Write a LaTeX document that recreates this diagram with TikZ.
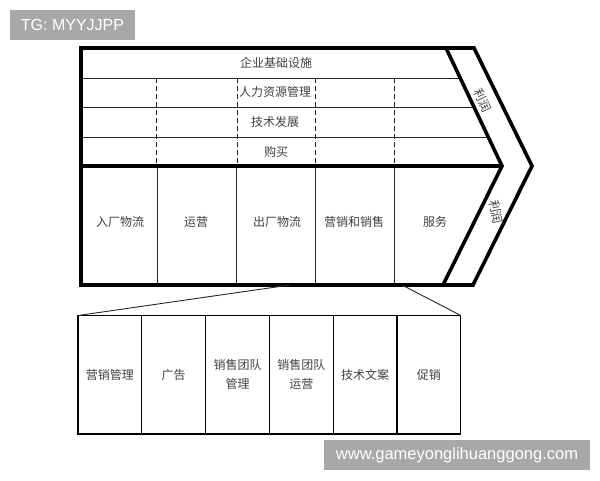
\documentclass[tikz,border=0pt]{standalone}
\usepackage{fontspec}
\setmainfont{Liberation Sans}
\newfontfamily\cjk{Noto Sans CJK SC}
\usetikzlibrary{positioning}
\tikzstyle{thickline} = [line width=3.6pt, line join=miter]
\tikzstyle{thinline} = [line width=0.9pt, black!85]
\tikzstyle{dashline} = [line width=0.9pt, black!85, dash pattern=on 5pt off 3pt]
\tikzstyle{lbl} = [font=\cjk\fontsize{12}{15}\selectfont, text=black!75, inner sep=0pt]
\tikzstyle{subbox} = [draw, line width=1.1pt, minimum width=63.8pt, minimum height=118.5pt, outer sep=0pt, inner sep=0pt, align=center, font=\cjk\fontsize{12}{19}\selectfont, text=black!75]
\tikzstyle{wmark} = [fill=black!34, text=white, inner sep=0pt, font=\fontsize{16}{16}\selectfont]

\begin{document}
\begin{tikzpicture}[x=1pt, y=-1pt]
\useasboundingbox (0,0) rectangle (600,480);

% Frame corners
\coordinate (tl)  at (81,48);
\coordinate (bl)  at (81,285);
\coordinate (ml)  at (81,166);
\coordinate (otop) at (474,48);
\coordinate (otip) at (532,166);
\coordinate (obot) at (473,285);
\coordinate (itop) at (446,48);
\coordinate (itip) at (502,166);
\coordinate (ibot) at (443,285);

% Support rows
\foreach \y/\x in {78/460.2,107/474,137/488.2}
  \draw[thinline] (81,\y) -- (\x,\y);
\foreach \x in {156,237,315,394}
  \draw[dashline] (\x,78) -- (\x,166);

% Primary columns
\foreach \x in {157,236,315,394}
  \draw[thinline] (\x,166) -- (\x,285);

% Outline
\draw[thickline] (otop) -- (tl) -- (bl) -- (obot) -- (otip) -- cycle;
\draw[thickline] (itop) -- (itip) -- (ibot);
\draw[thickline] (ml) -- (itip);

% Labels
\node[lbl] (infra) at (276,63)  {企业基础设施};
\node[lbl] (hrm)   at (275,92)  {人力资源管理};
\node[lbl] (tech)  at (275,122) {技术发展};
\node[lbl] (buy)   at (276,152) {购买};

\node[lbl] (p1) at (120,222) {入厂物流};
\node[lbl] (p2) at (196,222) {运营};
\node[lbl] (p3) at (277,222) {出厂物流};
\node[lbl] (p4) at (354,222) {营销和销售};
\node[lbl] (p5) at (435,222) {服务};

\node[lbl, rotate=-64] (m1) at (483,100) {利润};
\node[lbl, rotate=-78] (m2) at (496,212) {利润};

% Marketing detail
\node[subbox, anchor=north west] (s1) at (78,315.5) {营销管理};
\node[subbox, right=0pt of s1] (s2) {广告};
\node[subbox, right=0pt of s2] (s3) {销售团队\\管理};
\node[subbox, right=0pt of s3] (s4) {销售团队\\运营};
\node[subbox, right=0pt of s4] (s5) {技术文案};
\node[subbox, right=0pt of s5] (s6) {促销};

\coordinate (zl) at (290,285);
\coordinate (zr) at (402,285);
\draw[thinline] (zl) -- (s1.north west);
\draw[thinline] (zr) -- (s6.north east);

% Watermarks
\node[wmark, minimum width=125pt, minimum height=30pt] (tg) at (72.5,25) {TG: MYYJJPP};
\node[wmark, minimum width=266pt, minimum height=30pt, font=\fontsize{16.5}{16.5}\selectfont] (web) at (457,455) {www.gameyonglihuanggong.com};
\end{tikzpicture}
\end{document}
